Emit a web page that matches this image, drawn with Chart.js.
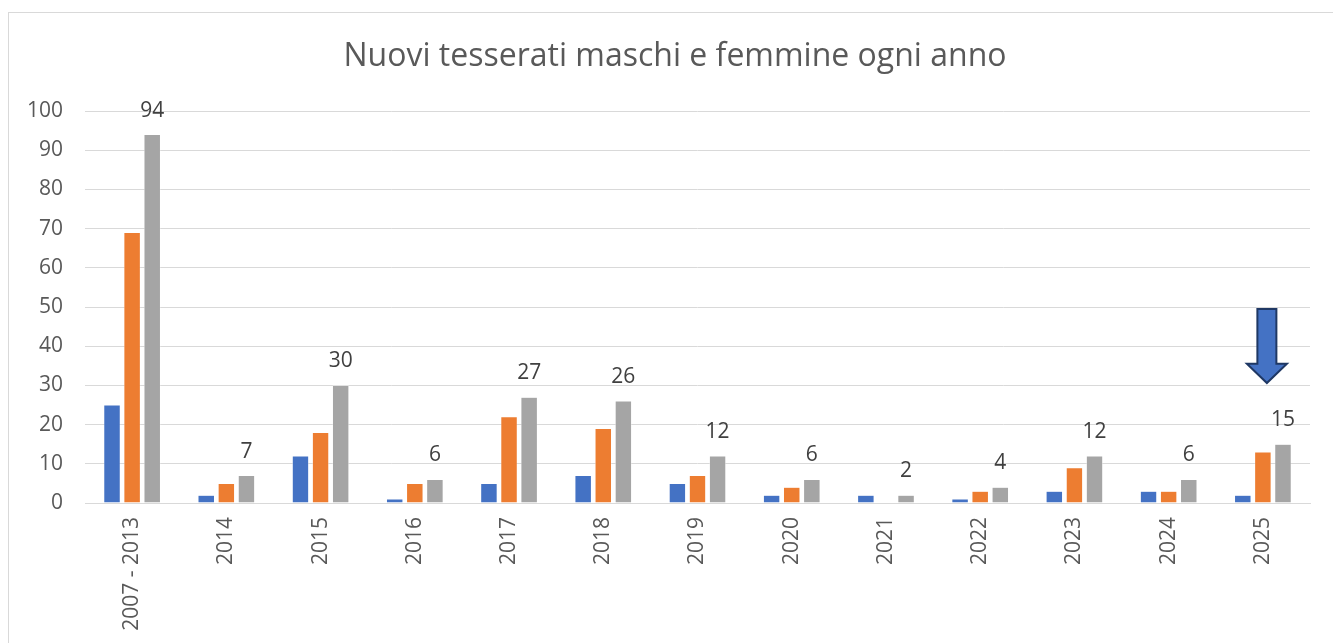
<!DOCTYPE html>
<html>
<head>
<meta charset="utf-8">
<script src="https://cdn.jsdelivr.net/npm/chart.js@4.4.1/dist/chart.umd.min.js"></script>
<style>
  html, body { margin: 0; padding: 0; background: #fff; overflow: hidden; }
  #frame { position: absolute; left: 8px; top: 12px; width: 1400px; height: 700px; border: 1px solid #d9d9d9; box-sizing: border-box; }
  #wrap { position: absolute; left: 0; top: 0; width: 1333px; height: 643px; }
</style>
</head>
<body>
<div id="frame"></div>
<div id="wrap"><canvas id="c" width="1333" height="643"></canvas></div>
<script>
const categories = ["2007 - 2013", "2014", "2015", "2016", "2017", "2018", "2019", "2020", "2021", "2022", "2023", "2024", "2025"];
const maschi  = [25, 2, 12, 1, 5, 7, 5, 2, 2, 1, 3, 3, 2];
const femmine = [69, 5, 18, 5, 22, 19, 7, 4, 0, 3, 9, 3, 13];
const totale  = [94, 7, 30, 6, 27, 26, 12, 6, 2, 4, 12, 6, 15];
const yTicks  = [0, 10, 20, 30, 40, 50, 60, 70, 80, 90, 100];
const arrowCategory = "2025";
const arrowFrom = 49.5, arrowHeadStart = 35.5, arrowTo = 30.6;

const FONT = "'Open Sans', 'Noto Sans', sans-serif";

const labelsPlugin = {
  id: 'totLabels',
  afterDatasetsDraw(chart) {
    const ctx = chart.ctx;
    const meta = chart.getDatasetMeta(2);
    ctx.save();
    ctx.font = "21px " + FONT;
    ctx.fillStyle = "#404040";
    ctx.textAlign = "center";
    ctx.textBaseline = "middle";
    meta.data.forEach((bar, i) => {
      ctx.fillText(String(totale[i]), bar.x, bar.y - 24);
    });
    ctx.restore();
  }
};

const arrowPlugin = {
  id: 'arrow',
  afterDatasetsDraw(chart) {
    const ctx = chart.ctx;
    const xs = chart.scales.x, ys = chart.scales.y;
    const cx = xs.getPixelForValue(categories.indexOf(arrowCategory)) + 4;
    const yTop = ys.getPixelForValue(arrowFrom);
    const yHead = ys.getPixelForValue(arrowHeadStart);
    const yTip = ys.getPixelForValue(arrowTo);
    const sw = 9.5, hw = 20;
    ctx.save();
    ctx.beginPath();
    ctx.moveTo(cx - sw, yTop);
    ctx.lineTo(cx + sw, yTop);
    ctx.lineTo(cx + sw, yHead);
    ctx.lineTo(cx + hw, yHead);
    ctx.lineTo(cx, yTip);
    ctx.lineTo(cx - hw, yHead);
    ctx.lineTo(cx - sw, yHead);
    ctx.closePath();
    ctx.fillStyle = "#4472C4";
    ctx.fill();
    ctx.lineWidth = 2;
    ctx.strokeStyle = "#1F3864";
    ctx.lineJoin = "miter";
    ctx.stroke();
    ctx.restore();
  }
};

new Chart(document.getElementById('c'), {
  type: 'bar',
  data: {
    labels: categories,
    datasets: [
      { label: 'Maschi', data: maschi, backgroundColor: '#4472C4', borderColor: '#ffffff', borderWidth: 0.5 },
      { label: 'Femmine', data: femmine, backgroundColor: '#ED7D31', borderColor: '#ffffff', borderWidth: 0.5 },
      { label: 'Totale', data: totale, backgroundColor: '#A5A5A5', borderColor: '#ffffff', borderWidth: 0.5 }
    ]
  },
  options: {
    responsive: false,
    animation: false,
    layout: { padding: { left: 20, right: 3, top: 0, bottom: 0 } },
    datasets: { bar: { categoryPercentage: 0.64, barPercentage: 0.82 } },
    plugins: {
      legend: { display: false },
      tooltip: { enabled: false },
      title: {
        display: true,
        text: 'Nuovi tesserati maschi e femmine ogni anno',
        color: '#595959',
        font: { family: FONT, size: 32, weight: 'normal', lineHeight: 1.2 },
        padding: { top: 38, bottom: 34.6 }
      }
    },
    scales: {
      x: {
        grid: { display: false, drawTicks: false },
        border: { display: true, color: '#d9d9d9', width: 1 },
        ticks: { color: '#595959', font: { family: FONT, size: 21 }, minRotation: 90, maxRotation: 90, padding: 14, autoSkip: false },
        afterFit(s) { s.height = 140; }
      },
      y: {
        min: 0, max: 100,
        afterBuildTicks(s) { s.ticks = yTicks.map(v => ({ value: v })); },
        grid: { color: '#d9d9d9', lineWidth: 1, drawTicks: false },
        border: { display: false },
        ticks: { color: '#595959', font: { family: FONT, size: 21 }, padding: 22 },
        afterFit(s) { s.width = 65; }
      },
      yPad: {
        position: 'right',
        min: 0, max: 100,
        grid: { display: false, drawTicks: false },
        border: { display: false },
        ticks: { display: false },
        afterFit(s) { s.width = 20; }
      }
    }
  },
  plugins: [labelsPlugin, arrowPlugin]
});
</script>
</body>
</html>
